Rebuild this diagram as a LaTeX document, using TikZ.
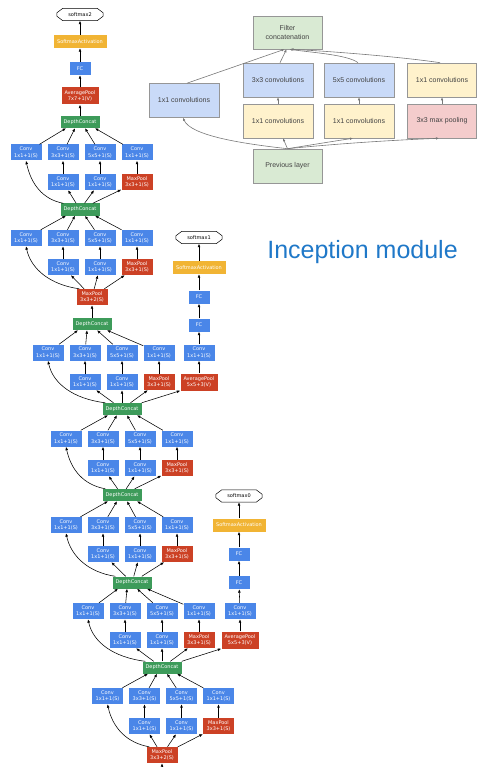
\documentclass[tikz,border=0pt]{standalone}
\usepackage{fontspec}
\setmainfont{DejaVu Sans}
\newfontfamily\arialf{Liberation Sans}
\usetikzlibrary{arrows.meta}
\definecolor{gblue}{RGB}{74,134,232}
\definecolor{gred}{RGB}{204,65,37}
\definecolor{ggreen}{RGB}{61,155,90}
\definecolor{gyellow}{RGB}{241,180,52}
\definecolor{lblue}{RGB}{201,218,248}
\definecolor{lyellow}{RGB}{255,242,204}
\definecolor{lpink}{RGB}{244,204,204}
\definecolor{lgreen}{RGB}{217,234,211}
\definecolor{ibord}{RGB}{150,150,150}
\definecolor{itext}{RGB}{67,67,67}
\definecolor{ititle}{RGB}{31,120,200}
\definecolor{iline}{RGB}{120,120,120}

\tikzset{
  gbox/.style={inner sep=0pt, text=white, align=center, font=\fontsize{5}{6.3}\selectfont},
  convbox/.style={gbox, fill=gblue, minimum width=31pt, minimum height=16pt},
  poolbox/.style={gbox, fill=gred, minimum width=31pt, minimum height=16pt},
  apbox/.style={gbox, fill=gred, minimum width=37pt, minimum height=17pt},
  dcbox/.style={gbox, fill=ggreen, minimum width=39pt, minimum height=12pt},
  fcbox/.style={gbox, fill=gblue, minimum width=21pt, minimum height=13pt},
  sabox/.style={gbox, fill=gyellow, minimum width=53pt, minimum height=13pt},
  smbox/.style={inner sep=0pt, minimum width=46pt, minimum height=12pt, font=\fontsize{5}{6}\selectfont},
  arr/.style={-{Latex[length=3.5pt,width=2.8pt]}, line width=0.55pt},
  ibox/.style={draw=ibord, line width=0.6pt, minimum width=70pt, minimum height=34pt, inner sep=0pt, align=center, text=itext, font=\arialf\fontsize{7}{8.5}\selectfont},
  iarr/.style={-{Latex[length=3pt,width=2.6pt]}, draw=iline, line width=0.6pt},
}

\newcommand{\octagon}[1]{%
  \draw[line width=0.5pt] ([xshift=6pt]#1.north west) -- ([xshift=-6pt]#1.north east)
    -- ([yshift=-4.5pt]#1.north east) -- ([yshift=4.5pt]#1.south east)
    -- ([xshift=-6pt]#1.south east) -- ([xshift=6pt]#1.south west)
    -- ([yshift=4.5pt]#1.south west) -- ([yshift=-4.5pt]#1.north west) -- cycle;}

\newcommand{\incept}[7]{%
  \node[convbox] (#1a) at (#2,#3) {Conv\\1x1+1(S)};
  \node[convbox] (#1b) at (#2+37,#3) {Conv\\3x3+1(S)};
  \node[convbox] (#1c) at (#2+74,#3) {Conv\\5x5+1(S)};
  \node[convbox] (#1d) at (#2+111,#3) {Conv\\1x1+1(S)};
  \node[convbox] (#1e) at (#2+37,#4) {Conv\\1x1+1(S)};
  \node[convbox] (#1f) at (#2+74,#4) {Conv\\1x1+1(S)};
  \node[poolbox] (#1g) at (#2+111,#4) {MaxPool\\3x3+1(S)};
  \draw[arr] ([xshift=3pt]#5.north west) .. controls +(#7,-4) and +(5,23) .. (#1a.south);
  \draw[arr] (#5) -- (#1e);
  \draw[arr] (#5) -- (#1f);
  \draw[arr] (#5) -- (#1g);
  \draw[arr] (#1e) -- (#1b);
  \draw[arr] (#1f) -- (#1c);
  \draw[arr] (#1g) -- (#1d);
  \draw[arr] (#1a) -- ([xshift=-14pt]#6.south);
  \draw[arr] (#1b) -- ([xshift=-5pt]#6.south);
  \draw[arr] (#1c) -- ([xshift=5pt]#6.south);
  \draw[arr] (#1d) -- ([xshift=15pt]#6.south);
}

\begin{document}
\begin{tikzpicture}[x=1pt,y=-1pt]
\useasboundingbox (0,0) rectangle (477,767);

% ---------- main column ----------
\node[smbox] (s2) at (80,14.5) {softmax2}; \octagon{s2}
\node[sabox] (sa2) at (80,41.5) {SoftmaxActivation};
\node[fcbox] (fc2) at (80,68.5) {FC};
\node[apbox] (ap2) at (80,96) {AveragePool\\7x7+1(V)};
\node[dcbox] (dc9) at (80,122) {DepthConcat};
\node[dcbox] (dc8) at (80,209.5) {DepthConcat};
\node[poolbox] (mp4) at (92,297) {MaxPool\\3x3+2(S)};
\node[dcbox] (dc7) at (92,324) {DepthConcat};
\node[dcbox] (dc6) at (122,409) {DepthConcat};
\node[dcbox] (dc5) at (122,495) {DepthConcat};
\node[dcbox] (dc4) at (132,582.5) {DepthConcat};
\node[dcbox] (dc3) at (162,667.5) {DepthConcat};
\node[poolbox] (mp3) at (162,755) {MaxPool\\3x3+2(S)};
\coordinate (bot) at (162,775);

\draw[arr] (bot) -- (mp3);
\draw[arr] (dc7) -- (mp4);
\draw[arr] (dc9) -- (ap2);
\draw[arr] (ap2) -- (fc2);
\draw[arr] (fc2) -- (sa2);
\draw[arr] (sa2) -- (s2);

\incept{iVb}{26}{152.5}{182}{dc8}{dc9}{-21}
\incept{iVa}{26}{238}{267}{mp4}{dc8}{-29}
\incept{iIVe}{48}{352.5}{382}{dc6}{dc7}{-32}
\incept{iIVd}{66}{438.5}{468}{dc5}{dc6}{-22}
\incept{iIVc}{66}{525}{554}{dc4}{dc5}{-27}
\incept{iIVb}{88}{611}{640}{dc3}{dc4}{-32}
\incept{iIVa}{107.5}{696}{726}{mp3}{dc3}{-23}

% ---------- auxiliary classifier 1 ----------
\node[apbox] (ap1) at (199,382) {AveragePool\\5x5+3(V)};
\node[convbox] (ac1) at (199,352.5) {Conv\\1x1+1(S)};
\node[fcbox] (fa1) at (199,325) {FC};
\node[fcbox] (fb1) at (199,297) {FC};
\node[sabox] (sa1) at (199,267.5) {SoftmaxActivation};
\node[smbox] (s1) at (199,237.5) {softmax1}; \octagon{s1}
\draw[arr] (dc6.north east) -- (ap1.south west);
\draw[arr] (ap1) -- (ac1);
\draw[arr] (ac1) -- (fa1);
\draw[arr] (fa1) -- (fb1);
\draw[arr] (fb1) -- (sa1);
\draw[arr] (sa1) -- (s1);

% ---------- auxiliary classifier 0 ----------
\node[apbox] (ap0) at (240,640) {AveragePool\\5x5+3(V)};
\node[convbox] (ac0) at (240,611) {Conv\\1x1+1(S)};
\node[fcbox] (fa0) at (239,582.5) {FC};
\node[fcbox] (fb0) at (239,554) {FC};
\node[sabox] (sa0) at (239,525) {SoftmaxActivation};
\node[smbox] (s0) at (239,496) {softmax0}; \octagon{s0}
\draw[arr] (dc3.north east) -- (ap0.south west);
\draw[arr] (ap0) -- (ac0);
\draw[arr] (ac0) -- (fa0);
\draw[arr] (fa0) -- (fb0);
\draw[arr] (fb0) -- (sa0);
\draw[arr] (sa0) -- (s0);

% ---------- inception module sketch ----------
\node[ibox, fill=lgreen, minimum width=69pt, minimum height=33pt] (fcat) at (287.5,32.5) {Filter\\concatenation};
\node[ibox, fill=lblue] (L1) at (184,100.5) {1x1 convolutions};
\node[ibox, fill=lblue] (C3) at (278,80) {3x3 convolutions};
\node[ibox, fill=lblue] (C5) at (359,80) {5x5 convolutions};
\node[ibox, fill=lyellow, minimum width=69pt] (R1) at (442,80) {1x1 convolutions};
\node[ibox, fill=lyellow] (Y3) at (278,121) {1x1 convolutions};
\node[ibox, fill=lyellow] (Y5) at (359,121) {1x1 convolutions};
\node[ibox, fill=lpink, minimum width=69pt] (MP) at (442,121) {3x3 max pooling};
\node[ibox, fill=lgreen, minimum width=69pt] (prev) at (287.5,166) {Previous layer};

\draw[iarr] (prev.north) .. controls +(-45,-5) and +(8,18) .. ([xshift=-1pt]L1.south);
\draw[iarr] (prev.north) -- ([xshift=5pt]Y3.south);
\draw[iarr] (prev.north) .. controls +(25,-4) and +(-20,3) .. ([xshift=-6pt]Y5.south);
\draw[iarr] (prev.north) .. controls +(50,-5) and +(-50,2) .. ([xshift=-3pt]MP.south);
\draw[iarr] ([xshift=3pt]L1.north) -- ([xshift=-3pt]fcat.south);
\draw[iarr] ([xshift=2pt]C3.north) -- ([xshift=-1pt]fcat.south);
\draw[iarr] ([xshift=-1pt]C5.north) .. controls +(-10,-8) and +(20,3) .. ([xshift=2pt]fcat.south);
\draw[iarr] ([xshift=-2pt]R1.north) .. controls +(-40,-6) and +(40,2) .. ([xshift=3pt]fcat.south);
\draw[iarr] (Y3) -- (C3);
\draw[iarr] (Y5) -- (C5);
\draw[iarr] (MP) -- (R1);

\node[text=ititle, font=\arialf\fontsize{25}{30}\selectfont, inner sep=0pt, anchor=base] (title) at (362.5,258) {Inception module};
\end{tikzpicture}
\end{document}
